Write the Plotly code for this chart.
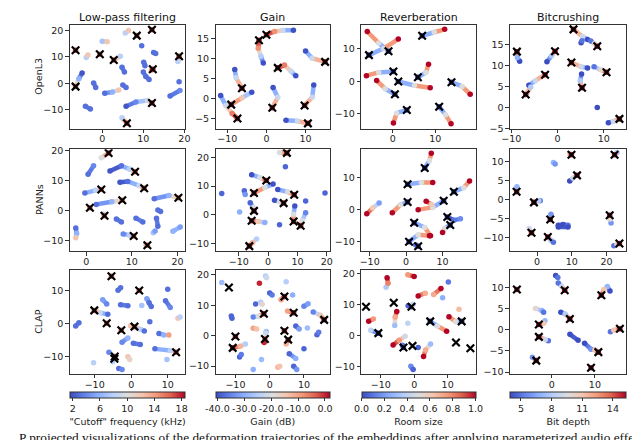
import plotly.graph_objects as go
from plotly.subplots import make_subplots
from plotly.colors import sample_colorscale

# matplotlib "coolwarm" approximated with a few stops
COOLWARM = [[0.0, "rgb(59,76,192)"], [0.125, "rgb(98,130,234)"], [0.25, "rgb(141,176,254)"],
            [0.375, "rgb(184,208,249)"], [0.5, "rgb(221,221,221)"], [0.625, "rgb(245,196,173)"],
            [0.75, "rgb(244,154,123)"], [0.875, "rgb(222,96,77)"], [1.0, "rgb(180,4,38)"]]

EFFECTS = ["Low-pass filtering", "Gain", "Reverberation", "Bitcrushing"]
MODELS = ["OpenL3", "PANNs", "CLAP"]

# colour bars (one per effect)
CBAR_RANGE = [(1.6, 18.5), (-40.6, 1.8), (0.0, 1.0), (3.95, 15.3)]
CBAR_TICKS = [[2, 6, 10, 14, 18], [-40, -30, -20, -10, 0], [0, 0.2, 0.4, 0.6, 0.8, 1.0], [5, 8, 11, 14]]
CBAR_TEXT = [["2", "6", "10", "14", "18"],
             ["-40.0", "-30.0", "-20.0", "-10.0", "0.0"],
             ["0.0", "0.2", "0.4", "0.6", "0.8", "1.0"],
             ["5", "8", "11", "14"]]
CBAR_TITLE = ['"Cutoff" frequency (kHz)', "Gain (dB)", "Room size", "Bit depth"]

# trajectories: list of (x, y, parameter value) waypoints; X = original (unprocessed) clips
LP_OPENL3_TRAJ = [
    [(5.6, 19.0, 8), (6.4, 19.9, 12)], [(0.0, 15.9, 7), (1.2, 15.7, 12)],
    [(-3.9, 9.8, 8), (-3.5, 10.7, 12)], [(4.4, 10.2, 8), (2.8, 8.8, 16)],
    [(9.6, 14.2, 3)], [(12.5, 11.6, 3), (13.0, 11.3, 3)],
    [(18.4, 8.3, 8), (18.7, 10.2, 17)], [(10.1, 8.0, 3), (10.4, 6.7, 3)],
    [(12.0, 5.0, 14), (12.3, 5.3, 18)], [(10.0, 4.3, 3), (10.6, 2.6, 3), (11.4, 1.5, 3)],
    [(4.8, 6.1, 3), (5.4, 4.3, 3)], [(5.0, -0.6, 3), (5.8, -1.5, 3)],
    [(-2.1, 0.2, 3), (-1.6, -1.5, 3)],
    [(-4.9, 3.9, 2), (-5.7, 1.8, 6), (-6.5, -1.2, 16)],
    [(0.6, -3.7, 3), (2.5, -3.2, 6), (4.0, -2.5, 12)],
    [(18.7, 0.6, 3)], [(16.5, -4.7, 3), (18.9, -2.7, 4)],
    [(-4.1, -8.6, 3), (-2.9, -9.6, 3)],
    [(5.8, -8.6, 2), (8.2, -7.0, 4), (11.0, -6.4, 9), (12.1, -7.4, 17)],
    [(4.8, -12.9, 8), (6.0, -15.0, 17)],
    [(-6.5, 12.5, 17)], [(12.1, 20.2, 17)], [(8.4, 18.0, 16)], [(-0.6, 11.0, 16)],
]
LP_OPENL3_X = [(-6.5, 12.5), (12.1, 20.2), (8.4, 18.0), (-0.6, 11.0), (2.8, 8.8),
               (18.7, 10.2), (12.3, 5.3), (-6.5, -1.2), (12.1, -7.4), (6.0, -15.0)]

GAIN_OPENL3_TRAJ = [
    [(-0.8, 8.8, -40), (-1.4, 10.5, -25), (-2.1, 12.5, -8), (-1.9, 14.5, 0)],
    [(6.9, 17.0, -40), (4.2, 17.0, -22), (2.1, 16.7, -8), (0.0, 15.9, 0)],
    [(10.0, 11.8, -40), (11.7, 10.0, -22), (15.0, 9.1, 0)],
    [(7.5, 5.6, -40), (6.25, 6.8, -22), (4.6, 8.3, -6), (2.9, 7.6, 0)],
    [(-8.1, 7.2, -40), (-7.75, 5.1, -22), (-6.25, 2.5, 0)],
    [(-3.75, 1.5, -40), (-6.25, 0.1, -15), (-9.0, -1.6, 0)],
    [(-11.7, 0.65, -40), (-10.4, -1.8, -22), (-8.75, -3.8, -6), (-7.4, -5.1, 0)],
    [(1.7, 2.7, -40), (2.9, 0.25, -22), (1.5, -2.4, 0)],
    [(12.1, 3.3, -40), (11.7, 0.25, -22), (9.75, -1.8, 0)],
    [(5.0, -5.5, -40), (7.9, -5.7, -22), (10.6, -6.3, 0)],
]
GAIN_OPENL3_X = [(-1.9, 14.5), (0.0, 15.9), (15.0, 9.1), (2.9, 7.6), (-6.25, 2.5),
                 (-9.0, -1.6), (-7.4, -5.1), (1.5, -2.4), (9.75, -1.8), (10.6, -6.3)]

REV_OPENL3_TRAJ = [
    [(-1.0, 9.2, 0), (-3.3, 11.7, 0.5), (-6.0, 15.2, 1)],
    [(-5.6, 8.0, 0), (-2.2, 10.0, 0.45), (1.3, 12.9, 1)],
    [(6.9, 13.9, 0), (9.75, 15.0, 0.5), (12.2, 15.9, 1)],
    [(0.15, 3.0, 0), (-3.3, 2.7, 0.5), (-6.2, 1.7, 1)],
    [(0.5, -4.0, 0), (-1.8, -2.3, 0.5), (-3.8, 0.2, 1)],
    [(1.3, -0.1, 0), (5.1, -1.3, 0.5), (8.8, -2.0, 1)],
    [(5.9, 1.2, 0), (7.8, 2.7, 0.5), (8.4, 5.2, 1)],
    [(13.8, -0.3, 0), (16.3, -1.6, 0.5), (18.2, -4.0, 1)],
    [(3.3, -8.8, 0), (0.9, -9.8, 0.5), (0.15, -12.8, 1)],
    [(10.9, -7.8, 0), (12.4, -10.3, 0.5), (13.7, -13.0, 1)],
]
REV_OPENL3_X = [(-1.0, 9.2), (-5.6, 8.0), (6.9, 13.9), (0.15, 3.0), (0.5, -4.0),
                (1.3, -0.1), (5.9, 1.2), (13.8, -0.3), (3.3, -8.8), (10.9, -7.8)]

BIT_OPENL3_TRAJ = [
    [(6.5, 16.2, 4), (5.4, 16.9, 9), (3.45, 18.6, 15)], [(5.1, 15.4, 4), (5.3, 15.9, 5)],
    [(7.2, 15.8, 5), (8.0, 15.2, 10), (8.6, 14.6, 15)],
    [(-8.2, 11.0, 4), (-8.7, 11.9, 7), (-8.8, 13.3, 15)],
    [(-2.3, 10.9, 4), (-1.3, 12.3, 8), (-0.55, 13.4, 15)],
    [(6.5, 9.4, 4), (5.1, 9.7, 9), (3.0, 10.7, 15)],
    [(7.9, 9.7, 5), (9.3, 9.0, 10), (10.6, 8.4, 15)],
    [(5.2, 8.0, 4), (4.9, 6.4, 8), (5.3, 4.7, 15)],
    [(-6.2, 5.3, 4), (-4.8, 6.4, 9), (-2.7, 7.8, 15)],
    [(-5.8, 4.9, 8), (-6.9, 3.1, 15)], [(8.6, 0.0, 4)],
    [(11.0, -3.6, 4), (12.1, -3.3, 9), (13.4, -2.7, 15)],
]
BIT_OPENL3_X = [(3.45, 18.6), (8.6, 14.6), (-8.8, 13.3), (-0.55, 13.4), (3.0, 10.7),
                (10.6, 8.4), (5.3, 4.7), (-2.7, 7.8), (-6.9, 3.1), (13.4, -2.7)]

LP_PANNS_TRAJ = [
    [(3.3, 17.7, 10), (4.9, 19.3, 17)], [(0.4, 12.2, 3), (1.6, 15.0, 4)],
    [(5.2, 13.3, 2), (7.7, 15.0, 3), (9.5, 13.9, 8), (10.7, 13.0, 16)],
    [(7.4, 9.5, 2), (9.1, 9.8, 3), (11.6, 8.4, 9), (12.7, 7.5, 16)],
    [(-0.3, 5.9, 3), (2.0, 6.8, 8), (3.3, 7.1, 15)],
    [(2.2, 2.1, 3), (5.6, 3.0, 6), (7.9, 3.5, 15)],
    [(14.9, 4.0, 3), (18.1, 5.1, 6), (20.2, 4.3, 15)],
    [(0.8, 1.0, 16)], [(3.8, -1.1, 9), (4.0, -1.7, 16)],
    [(6.6, -2.8, 3), (7.7, -3.8, 3)], [(10.9, -2.5, 3), (12.4, -3.8, 3)],
    [(15.7, 0.2, 3), (16.3, -0.3, 3)], [(15.4, -2.5, 3), (15.7, -5.2, 3)],
    [(14.7, -7.4, 7), (15.1, -6.8, 5)], [(19.0, -6.9, 6), (20.6, -5.5, 5)],
    [(8.1, -7.8, 4), (9.5, -8.2, 8), (10.4, -8.5, 16)],
    [(13.0, -11.3, 10), (13.4, -11.6, 16)],
    [(-2.3, -5.8, 3), (-2.1, -7.6, 6), (-2.3, -9.1, 12)],
]
LP_PANNS_X = [(4.9, 19.3), (10.7, 13.0), (12.7, 7.5), (3.3, 7.1), (7.9, 3.5),
              (20.2, 4.3), (0.8, 1.0), (4.0, -1.7), (10.4, -8.5), (13.4, -11.6)]

GAIN_PANNS_TRAJ = [
    [(3.9, 21.6, -20), (6.4, 21.5, 0)], [(5.9, 16.7, -38)],
    [(-5.6, 13.9, -40), (-2.8, 13.0, -20), (-0.6, 11.9, 0)],
    [(1.7, 10.7, -40), (-1.1, 9.5, -20), (-4.8, 7.6, 0)],
    [(-15.8, 7.4, -38)], [(-8.1, 8.4, -38), (-7.8, 7.1, -33)],
    [(3.3, 8.8, -40), (6.7, 8.0, -20), (8.9, 7.0, 0)],
    [(2.2, 5.1, -40), (3.9, 4.6, -20), (5.3, 4.1, 0)],
    [(12.8, 4.8, -38)], [(19.4, 7.6, -38)], [(-9.7, 1.0, -30)],
    [(-6.1, 4.2, -38), (-5.0, 2.5, -20), (-4.8, 1.4, 0)],
    [(-1.1, -2.6, -30), (-3.3, -2.3, -15), (-5.6, -2.0, 0)],
    [(9.1, 3.1, -40), (8.7, 0.2, -20), (8.7, -2.3, 0)],
    [(12.8, 0.8, -35), (11.7, -2.0, -20), (11.1, -3.75, 0)],
    [(3.9, -3.4, -38)],
    [(-3.9, -8.3, -25), (-5.3, -9.6, -12), (-6.4, -10.8, 0)],
]
GAIN_PANNS_X = [(6.4, 21.5), (-0.6, 11.9), (-4.8, 7.6), (8.9, 7.0), (5.3, 4.1),
                (-4.8, 1.4), (-5.6, -2.0), (8.7, -2.3), (11.1, -3.75), (-6.4, -10.8)]

REV_PANNS_TRAJ = [
    [(5.1, 13.1, 0), (6.4, 15.4, 0.5), (6.9, 17.7, 1)],
    [(0.4, 8.0, 0), (4.2, 8.5, 0.5), (7.3, 8.5, 1)],
    [(13.1, 5.6, 0), (15.8, 6.9, 0.5), (17.4, 9.0, 1)],
    [(0.4, 2.4, 0), (-1.6, 1.5, 0.5), (-3.8, -1.0, 1)],
    [(-7.4, 2.1, 0.2), (-9.2, 0.5, 0.6), (-10.8, -1.3, 1)],
    [(10.3, 2.8, 0), (7.3, 0.7, 0.5), (3.3, 0.0, 1)],
    [(5.5, 2.6, 1), (7.0, 1.6, 0.6)],
    [(11.3, -2.3, 0), (13.1, -3.3, 0.1), (14.9, -2.9, 0.15)],
    [(12.1, -4.8, 0), (10.6, -5.9, 0.5), (10.0, -7.2, 1)],
    [(2.2, -4.1, 0), (5.1, -5.6, 0.5), (6.7, -8.2, 1)],
    [(0.8, -10.1, 0), (3.3, -7.9, 0.5), (6.4, -8.2, 1)],
    [(2.6, -11.0, 0.1), (3.3, -11.5, 0)],
]
REV_PANNS_X = [(5.1, 13.1), (0.4, 8.0), (13.1, 5.6), (0.4, 2.4), (10.3, 2.8),
               (11.3, -2.3), (12.1, -4.8), (2.2, -4.1), (0.8, -10.1), (3.3, -11.5)]

BIT_PANNS_TRAJ = [
    [(9.5, 11.9, 12), (9.9, 11.7, 15)], [(23.0, 12.3, 8), (22.3, 11.7, 15)],
    [(9.4, 4.8, 4), (10.3, 5.6, 9), (11.5, 6.3, 15)], [(4.7, 9.7, 7), (5.2, 9.3, 6)],
    [(-5.8, 3.3, 7), (-5.9, 2.0, 15)], [(0.9, -0.4, 5), (0.5, -0.4, 8), (-0.9, -0.8, 15)],
    [(4.0, -3.9, 6), (3.8, -5.3, 15)],
    [(6.1, -6.8, 4), (7.5, -6.6, 4), (8.9, -6.8, 5)], [(6.1, -7.3, 4), (8.9, -7.3, 4)],
    [(-2.3, -7.7, 9), (-1.6, -8.8, 15)],
    [(3.1, -9.9, 15), (4.0, -10.8, 8), (4.7, -11.3, 5)],
    [(21.3, -6.2, 6), (21.0, -5.2, 10), (20.9, -4.2, 15)],
    [(22.1, -12.2, 5), (23.0, -11.9, 10), (23.7, -11.6, 15)],
]
BIT_PANNS_X = [(9.9, 11.7), (22.3, 11.7), (11.5, 6.3), (-5.9, 2.0), (-0.9, -0.8),
               (3.8, -5.3), (-1.6, -8.8), (3.1, -9.9), (20.9, -4.2), (23.7, -11.6)]

LP_CLAP_TRAJ = [
    [(-5.4, 14.3, 16)], [(-3.6, 10.1, 3), (-2.9, 10.8, 3)], [(2.2, 10.0, 16)],
    [(10.0, 10.4, 3)], [(-7.8, 7.2, 5), (-6.7, 5.9, 4)],
    [(-6.4, 2.8, 3), (-8.5, 3.3, 9), (-10.1, 4.0, 16)],
    [(-2.9, 5.7, 3), (-0.9, 5.4, 3)], [(2.9, 5.5, 7)],
    [(4.3, 7.5, 5), (4.9, 6.3, 3), (5.5, 5.2, 3)], [(9.4, 6.9, 3), (10.7, 4.9, 4)],
    [(12.8, 1.6, 12), (13.4, 2.0, 8)], [(-6.7, 0.1, 16)],
    [(-15.2, -0.7, 3), (-14.3, 0.3, 3)], [(-2.7, -2.0, 16)],
    [(-0.2, -0.6, 12), (0.9, -0.9, 16), (2.5, -1.7, 8), (3.6, -2.2, 3)],
    [(5.1, 0.6, 3)], [(7.6, -3.0, 3), (8.9, -3.4, 6), (10.3, -3.4, 14)],
    [(-2.5, -5.6, 4), (-0.9, -4.3, 6)], [(0.6, -5.9, 3), (2.5, -6.3, 3)],
    [(6.5, -7.6, 3), (10.7, -8.1, 8), (12.3, -8.6, 16)],
    [(-6.1, -8.6, 4), (-4.5, -9.9, 16), (-5.1, -11.5, 8)],
    [(-0.9, -10.0, 12), (-0.4, -10.8, 11)], [(-10.3, -11.8, 8)],
    [(-3.4, -13.5, 3), (-2.5, -13.8, 4)], [(9.8, -10.8, 7)],
]
LP_CLAP_X = [(-5.4, 14.3), (2.2, 10.0), (-10.1, 4.0), (-6.7, 0.1), (-2.7, -2.0),
             (0.9, -0.9), (12.3, -8.6), (-4.5, -9.9), (-4.6, -10.6)]

GAIN_CLAP_TRAJ = [
    [(-14.0, 17.5, -28)], [(-3.0, 17.2, 0)], [(-1.2, 19.6, -25), (-0.9, 19.0, -22)],
    [(4.8, 17.7, -25)], [(0.0, 14.0, -38), (0.7, 13.4, -36)], [(-4.1, 10.4, -38)],
    [(-2.6, 11.0, -25), (-2.2, 10.3, -18)], [(3.3, 11.8, -10), (4.3, 12.9, 0)],
    [(6.7, 13.4, -30)], [(-11.2, 6.5, -38), (-11.0, 5.7, -38)],
    [(-4.8, 6.1, -35), (-3.3, 6.4, -20), (-1.7, 7.2, 0)],
    [(5.2, 8.1, -10), (7.0, 7.5, 0)], [(10.0, 9.7, -35), (11.2, 10.5, -32)],
    [(12.7, 7.8, -35), (14.8, 6.7, -15), (15.9, 5.2, 0)],
    [(13.8, 0.3, -38), (14.3, 1.1, -36)], [(7.6, 3.2, -38), (8.6, 2.2, -32)],
    [(11.0, 2.5, -28)], [(-4.8, 2.4, -10), (-3.8, 2.2, -14)],
    [(-1.0, 1.4, -28), (-1.2, 0.8, -22)], [(4.3, 1.6, 0)], [(-10.0, -0.3, 0)],
    [(-1.4, -1.1, -5), (-1.6, -2.2, 0)], [(4.8, -2.7, -12), (5.4, -1.3, 0)],
    [(-7.1, -2.7, -25), (-8.6, -3.5, -12), (-10.8, -4.0, 0)],
    [(-8.8, -7.0, -38), (-8.3, -6.2, -36)], [(-2.4, -7.8, -28)],
    [(5.7, -5.9, -38), (7.6, -7.5, -30)], [(10.0, -4.3, -38)],
    [(7.0, -10.0, -38), (7.9, -11.1, -33)], [(-4.8, -11.1, -30)],
    [(2.4, -10.4, -12), (2.9, -10.0, -14)],
]
GAIN_CLAP_X = [(-11.9, 15.8), (4.3, 12.9), (-1.7, 7.2), (7.0, 7.5), (15.9, 5.2),
               (4.3, 1.6), (-10.0, -0.3), (-1.4, -1.1), (5.4, -1.3), (-10.8, -4.0)]

REV_CLAP_TRAJ = [
    [(-8.4, 15.7, 0.35), (-7.8, 17.0, 0.8), (-8.1, 18.8, 1)],
    [(-1.9, 19.7, 0.75), (0.0, 19.2, 1)], [(10.2, 17.4, 0.1)],
    [(1.2, 12.9, 1), (3.3, 13.8, 0.7)], [(5.8, 13.4, 0.7), (8.0, 15.3, 1)],
    [(8.5, 12.3, 0.25)], [(-1.8, 9.7, 0.05), (-0.8, 9.4, 0), (-0.3, 10.2, 0.4)],
    [(-5.8, 3.4, 0.3), (-5.7, 6.0, 0.7), (-5.2, 7.9, 1)],
    [(-13.6, 4.7, 1), (-12.2, 5.5, 0.75)], [(-1.9, 4.1, 0.4)],
    [(-10.7, 0.9, 0), (-13.0, 1.8, 0.4)],
    [(4.8, 4.7, 0), (7.0, 3.2, 0.5), (9.7, 1.5, 1)],
    [(14.2, 4.7, 0), (12.4, 4.6, 0.5), (10.4, 6.2, 1)], [(13.4, 8.6, 0.65)],
    [(-2.7, -0.1, 0.45), (-4.5, -1.4, 0.75), (-6.3, -2.9, 1)],
    [(-3.5, -3.0, 0.1), (-3.2, -3.7, 0)], [(1.2, -3.7, 0.05)],
    [(4.9, -2.6, 0.3), (3.4, -4.5, 0.7), (2.8, -6.6, 1)],
    [(-1.0, -9.8, 0.15), (-0.3, -10.8, 0.05)],
]
REV_CLAP_X = [(-14.4, 9.4), (-6.1, 10.7), (-0.8, 9.4), (-10.7, 0.9), (4.8, 4.7),
              (14.2, 4.7), (-3.2, -3.7), (-0.5, -3.2), (12.5, -2.1), (16.8, -4.0)]

BIT_CLAP_TRAJ = [
    [(-8.1, 9.5, 15)], [(0.9, 12.8, 4), (1.4, 12.3, 5)],
    [(1.5, 11.0, 5), (2.3, 10.2, 9), (3.0, 9.3, 15)],
    [(13.5, 9.1, 4), (12.9, 10.2, 7), (12.1, 9.5, 11), (11.5, 8.1, 15)],
    [(-3.8, 5.0, 10), (-2.3, 4.5, 7), (-1.9, 4.1, 5)],
    [(2.1, 4.1, 4), (3.1, 3.7, 8), (4.2, 2.5, 15)],
    [(-1.6, 2.1, 7), (-1.9, 1.5, 11), (-3.0, 1.2, 15)],
    [(-0.8, -2.6, 5), (-1.5, -2.3, 9), (-3.0, -1.7, 15)],
    [(4.2, -1.1, 4), (6.1, -2.5, 4)],
    [(7.6, -3.2, 4), (9.1, -4.6, 6), (10.0, -4.8, 11), (10.8, -5.3, 15)],
    [(13.6, -0.5, 5), (14.4, -0.15, 11), (15.8, 0.2, 15)],
    [(-4.5, -6.5, 6), (-3.6, -7.3, 15)], [(9.1, -9.0, 15)],
]
BIT_CLAP_X = [(-8.1, 9.5), (3.0, 9.3), (11.5, 8.1), (4.2, 2.5), (-3.0, 1.2),
              (-3.0, -1.7), (10.8, -5.3), (15.8, 0.2), (-3.6, -7.3), (9.1, -9.0)]

PANELS = [
    [(LP_OPENL3_TRAJ, LP_OPENL3_X), (GAIN_OPENL3_TRAJ, GAIN_OPENL3_X),
     (REV_OPENL3_TRAJ, REV_OPENL3_X), (BIT_OPENL3_TRAJ, BIT_OPENL3_X)],
    [(LP_PANNS_TRAJ, LP_PANNS_X), (GAIN_PANNS_TRAJ, GAIN_PANNS_X),
     (REV_PANNS_TRAJ, REV_PANNS_X), (BIT_PANNS_TRAJ, BIT_PANNS_X)],
    [(LP_CLAP_TRAJ, LP_CLAP_X), (GAIN_CLAP_TRAJ, GAIN_CLAP_X),
     (REV_CLAP_TRAJ, REV_CLAP_X), (BIT_CLAP_TRAJ, BIT_CLAP_X)],
]

# axis ranges / tick steps
X_RANGES = [[(-7.9, 20.2), (-13, 16.25), (-7.4, 19.5), (-10.3, 14.9)],
            [(-3.6, 21.7), (-17.9, 21.1), (-12.3, 19.1), (-7.8, 25.7)],
            [(-16.8, 14.8), (-15.8, 17.6), (-15.8, 18.4), (-9.7, 17.3)]]
Y_RANGES = [[(-17, 22.1), (-7.6, 18.4), (-14.5, 17.3), (-5.0, 19.7)],
            [(-13.5, 20.6), (-12.5, 22.8), (-13, 19), (-13.6, 13.2)],
            [(-15.1, 16.2), (-12.5, 21.6), (-12.2, 21.3), (-10.4, 14.1)]]
Y_DTICK = [[10, 5, 10, 5], [10, 10, 10, 5], [10, 10, 10, 5]]

W, H = 640, 440
COL_PX = [(54, 172), (203, 320), (352, 469), (504, 623)]
ROW_PX = [(13, 119), (140, 244), (263.3, 369.3)]
FONT = "DejaVu Sans"
NBINS = 14

fig = make_subplots(rows=3, cols=4)

for r in range(3):
    for c in range(4):
        traj, xs = PANELS[r][c]
        cmin, cmax = CBAR_RANGE[c]
        cax = "coloraxis" if c == 0 else f"coloraxis{c + 1}"
        # segments grouped by colour bin (plotly lines have a single colour)
        bins = {}
        for t in traj:
            for a, b in zip(t[:-1], t[1:]):
                f = ((a[2] + b[2]) / 2 - cmin) / (cmax - cmin)
                k = min(max(int(f * NBINS), 0), NBINS - 1)
                bx, by = bins.setdefault(k, ([], []))
                bx += [a[0], b[0], None]
                by += [a[1], b[1], None]
        for k, (bx, by) in sorted(bins.items()):
            col = sample_colorscale(COOLWARM, [(k + 0.5) / NBINS])[0]
            fig.add_trace(go.Scatter(x=bx, y=by, mode="lines", hoverinfo="skip",
                                     line=dict(color=col, width=4.5), showlegend=False),
                          row=r + 1, col=c + 1)
        px_ = [p[0] for t in traj for p in t]
        py_ = [p[1] for t in traj for p in t]
        pv_ = [p[2] for t in traj for p in t]
        fig.add_trace(go.Scatter(x=px_, y=py_, mode="markers", showlegend=False,
                                 marker=dict(color=pv_, coloraxis=cax, size=5.5, line=dict(width=0))),
                      row=r + 1, col=c + 1)
        fig.add_trace(go.Scatter(x=[p[0] for p in xs], y=[p[1] for p in xs], mode="markers",
                                 showlegend=False,
                                 marker=dict(symbol="x-thin", size=7.5, color="black",
                                             line=dict(width=2.2, color="black"))),
                      row=r + 1, col=c + 1)
        x0, x1 = COL_PX[c]
        y0, y1 = ROW_PX[r]
        axstyle = dict(showline=True, mirror=True, linecolor="#333", linewidth=1,
                       ticks="outside", ticklen=3.5, tickwidth=1, tickcolor="#333",
                       showgrid=False, zeroline=False,
                       tickfont=dict(family=FONT, size=9.5, color="#222"))
        fig.update_xaxes(domain=[x0 / W, x1 / W], range=list(X_RANGES[r][c]), dtick=10,
                         tick0=0, ticklabelstandoff=-2, row=r + 1, col=c + 1, **axstyle)
        fig.update_yaxes(domain=[1 - y1 / H, 1 - y0 / H], range=list(Y_RANGES[r][c]),
                         dtick=Y_DTICK[r][c], tick0=0, row=r + 1, col=c + 1, **axstyle)

coloraxes = {}
for c in range(4):
    x0, x1 = COL_PX[c]
    key = "coloraxis" if c == 0 else f"coloraxis{c + 1}"
    coloraxes[key] = dict(
        colorscale=COOLWARM, cmin=CBAR_RANGE[c][0], cmax=CBAR_RANGE[c][1],
        colorbar=dict(orientation="h", x=(x0 + x1) / 2 / W, xanchor="center",
                      y=1 - 388 / H, yanchor="top", len=(x1 - x0) / W, lenmode="fraction",
                      thickness=6, thicknessmode="pixels", xpad=0, ypad=0,
                      outlinewidth=1, outlinecolor="#333",
                      ticks="outside", ticklen=2.5, tickcolor="#333",
                      tickvals=CBAR_TICKS[c], ticktext=CBAR_TEXT[c],
                      tickfont=dict(family=FONT, size=9.5, color="#222"),
                      title=dict(text=CBAR_TITLE[c], side="bottom",
                                 font=dict(family=FONT, size=9.5, color="#222"))))

annotations = []
for c, name in enumerate(EFFECTS):
    x0, x1 = COL_PX[c]
    annotations.append(dict(text=name, x=(x0 + x1) / 2 / W, y=1 - 6 / H, xref="paper", yref="paper",
                            xanchor="center", yanchor="middle", showarrow=False,
                            font=dict(family=FONT, size=11, color="#111")))
for r, name in enumerate(MODELS):
    y0, y1 = ROW_PX[r]
    annotations.append(dict(text=name, x=22.5 / W, y=1 - (y0 + y1) / 2 / H, xref="paper",
                            yref="paper", xanchor="center", yanchor="middle", textangle=-90,
                            showarrow=False, font=dict(family=FONT, size=9.5, color="#222")))
annotations.append(dict(text="P projected visualizations of the deformation trajectories of the "
                             "embeddings after applying parameterized audio effects",
                        x=0, y=1 - 425 / H, xref="paper", yref="paper", xanchor="left",
                        yanchor="top", showarrow=False,
                        font=dict(family="Liberation Serif", size=13.3, color="#111")))

fig.update_layout(width=W, height=H, margin=dict(l=0, r=0, t=0, b=0),
                  paper_bgcolor="white", plot_bgcolor="white",
                  annotations=annotations, **coloraxes)

fig.write_html("out.html")
